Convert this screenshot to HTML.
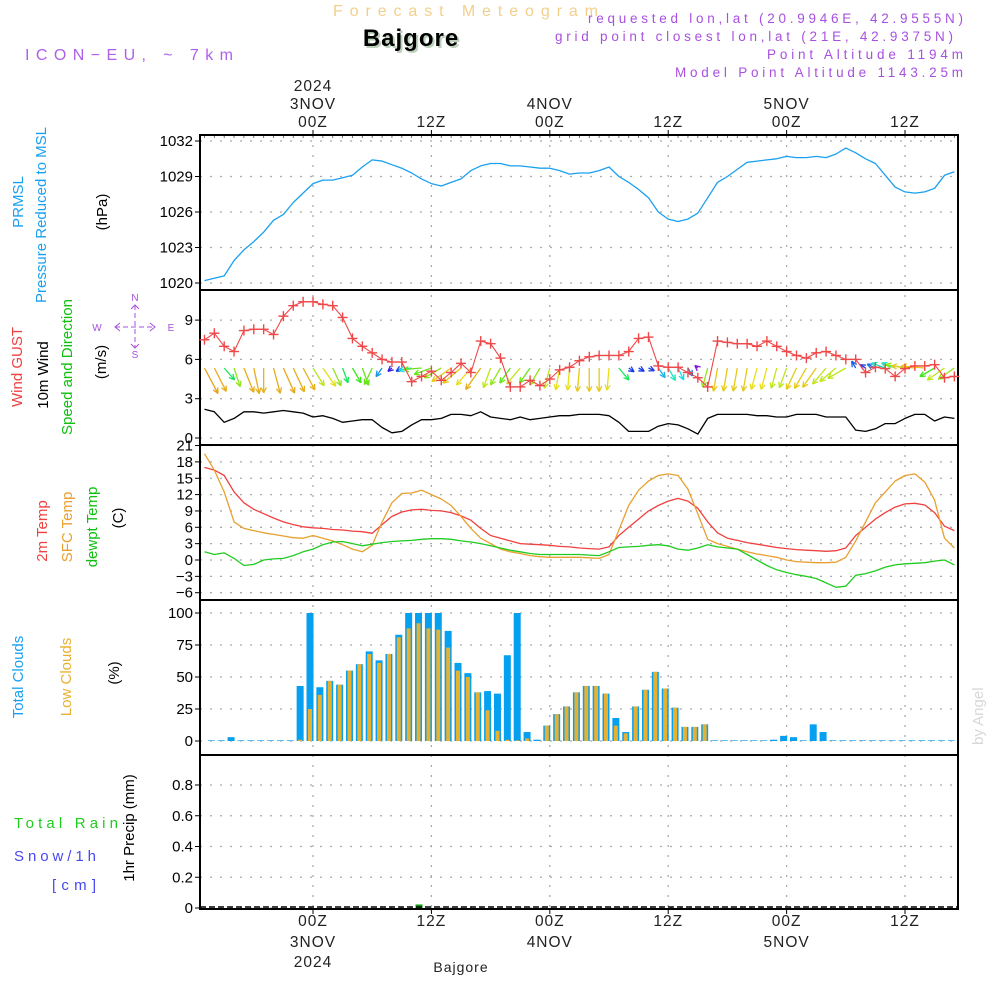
<!DOCTYPE html>
<html><head><meta charset="utf-8"><style>
html,body{margin:0;padding:0;background:#fff;}
svg{display:block;}
text{font-family:"Liberation Sans",sans-serif;}
</style></head><body>
<svg id="chart" width="1000" height="1000" viewBox="0 0 1000 1000" xmlns="http://www.w3.org/2000/svg">
<rect x="0" y="0" width="1000" height="1000" fill="#fff"/>
<text x="333" y="16" font-size="16" fill="#f3cf8c" textLength="265" lengthAdjust="spacing">Forecast Meteogram</text>
<text x="413" y="48" text-anchor="middle" font-size="24" font-weight="bold" font-family="Liberation Serif, serif" fill="#bcd0bc" letter-spacing="1">Bajgore</text>
<text x="411" y="46" text-anchor="middle" font-size="24" font-weight="bold" font-family="Liberation Serif, serif" fill="#000" letter-spacing="1">Bajgore</text>
<text x="25" y="60" font-size="16" fill="#b060e8" textLength="208" lengthAdjust="spacing">ICON−EU, ~ 7km</text>
<g font-size="13.5" fill="#a850e0">
<text x="588" y="23" textLength="375" lengthAdjust="spacing">requested lon,lat (20.9946E, 42.9555N)</text>
<text x="555" y="41" textLength="398" lengthAdjust="spacing">grid point closest lon,lat (21E, 42.9375N)</text>
<text x="767" y="59" textLength="196" lengthAdjust="spacing">Point Altitude 1194m</text>
<text x="675" y="77" textLength="288" lengthAdjust="spacing">Model Point Altitude 1143.25m</text>
</g>
<text transform="translate(983,745) rotate(-90)" font-size="15" font-family="Liberation Serif, serif" fill="#d8d8d8">by Angel</text>

<g id="axes"></g>
<g id="plot"></g>
</svg>
<script>
// ---------- DATA (hourly, hour 0 = 3NOV 00Z) ----------
const hours = [-11,-10,-9,-8,-7,-6,-5,-4,-3,-2,-1,0,1,2,3,4,5,6,7,8,9,10,11,12,13,14,15,16,17,18,19,20,21,22,23,24,25,26,27,28,29,30,31,32,33,34,35,36,37,38,39,40,41,42,43,44,45,46,47,48,49,50,51,52,53,54,55,56,57,58,59,60,61,62,63,64,65];
const pressure = [1020.2,1020.4,1020.6,1021.9,1022.8,1023.5,1024.3,1025.3,1025.8,1026.8,1027.6,1028.4,1028.7,1028.7,1028.9,1029.1,1029.8,1030.4,1030.3,1030.0,1029.7,1029.3,1028.8,1028.4,1028.2,1028.5,1028.8,1029.5,1029.9,1030.1,1030.1,1029.9,1029.9,1029.8,1029.7,1029.7,1029.5,1029.2,1029.3,1029.3,1029.5,1029.8,1029.0,1028.5,1027.9,1027.2,1026.0,1025.4,1025.2,1025.4,1025.9,1027.2,1028.5,1029.0,1029.6,1030.2,1030.3,1030.4,1030.5,1030.7,1030.6,1030.6,1030.7,1030.6,1030.9,1031.4,1031.0,1030.5,1030.1,1029.1,1028.1,1027.7,1027.6,1027.7,1028.0,1029.1,1029.4];
const gust = [7.5,8.0,7.0,6.6,8.2,8.3,8.3,7.9,9.3,10.1,10.4,10.4,10.2,10.1,9.2,7.6,7.0,6.5,6.0,5.8,5.8,4.3,4.7,5.1,4.4,5.0,5.7,5.0,7.4,7.2,6.1,3.9,3.9,4.4,4.0,4.5,5.2,5.4,5.9,6.2,6.3,6.3,6.3,6.6,7.6,7.7,5.5,5.4,5.4,5.0,4.6,3.9,7.4,7.3,7.2,7.2,7.0,7.4,7.0,6.6,6.3,6.1,6.5,6.6,6.3,6.0,6.0,5.0,5.4,5.3,4.7,5.3,5.5,5.5,5.6,4.6,4.7];
const windSpeed = [2.2,2.0,1.2,1.5,2.0,2.0,1.9,2.0,2.1,2.0,1.9,1.6,1.7,1.5,1.2,1.3,1.4,1.4,0.8,0.4,0.5,1.0,1.4,1.4,1.5,1.8,1.8,1.7,2.0,1.6,1.5,1.4,1.6,1.4,1.5,1.6,1.7,1.7,1.8,1.8,1.8,1.7,1.2,0.5,0.5,0.5,0.9,1.1,1.0,0.7,0.3,1.5,1.8,1.8,1.8,1.8,1.7,1.7,1.6,1.6,1.8,1.8,1.8,1.6,1.6,1.6,0.6,0.5,0.7,1.1,1.1,1.5,1.8,1.8,1.3,1.6,1.5];
// direction the arrow points: degrees, 0 = straight down, + = toward right
const windArrowDir = [28,27,41,18,22,12,0,15,24,25,28,32,35,25,20,30,20,-25,-35,-50,-60,-80,-85,-70,-60,-55,-50,-40,-35,-20,-30,-35,-40,-35,-30,-15,-10,-5,-5,0,0,-5,40,55,60,65,35,30,25,30,-130,-15,-10,-10,-10,-10,-15,-15,-15,-20,-25,-30,-35,-40,-50,-60,-150,-120,-115,-110,-110,-100,-95,-95,-60,-55,-55];
const temp2m = [17,16.5,15.5,12.5,10.5,9.3,8.5,7.7,7.0,6.5,6.1,5.9,5.8,5.6,5.5,5.3,5.2,4.9,6.5,8.0,8.8,9.2,9.3,9.1,9.0,8.7,8.1,7.3,5.8,4.5,4.0,3.5,3.0,2.9,2.8,2.7,2.5,2.4,2.2,2.1,2.0,2.4,4.5,6.0,7.5,9.0,10.0,10.8,11.3,10.8,9.5,7.0,5.0,4.0,3.6,3.2,2.9,2.6,2.3,2.1,1.9,1.8,1.7,1.6,1.7,2.2,4.5,6.0,7.5,8.7,9.7,10.3,10.4,10.1,8.7,6.2,5.4];
const tempSfc = [19.5,16.5,12.5,7.0,5.8,5.4,5.0,4.7,4.4,4.1,4.0,4.5,4.0,3.5,2.8,2.0,1.5,2.7,7.0,10.5,12.2,12.3,12.8,12.0,11.2,10.0,8.0,5.8,4.0,3.0,2.0,1.5,1.2,0.8,0.6,0.5,0.5,0.5,0.5,0.4,0.3,1.0,5.5,10.0,12.8,14.5,15.5,15.8,15.5,13.0,8.5,3.8,3.0,2.5,2.0,1.5,1.1,0.8,0.5,0.0,-0.3,-0.4,-0.5,-0.5,-0.4,0.5,3.5,7.0,10.5,12.5,14.5,15.5,15.8,14.3,11.0,4.0,2.2];
const dewpt = [1.5,1.0,1.3,0.3,-1.0,-0.8,0,0.2,0.3,0.8,1.5,2.0,2.8,3.3,3.4,3.0,2.6,2.9,3.2,3.4,3.5,3.6,3.8,3.9,3.9,3.8,3.5,3.3,3.0,2.6,2.2,1.8,1.5,1.2,1.0,1.0,1.0,1.0,1.0,0.9,0.8,1.5,2.3,2.4,2.5,2.7,2.8,2.6,2.0,1.8,2.2,2.8,2.4,2.2,2.0,1.0,0,-1.0,-1.8,-2.3,-2.7,-3.0,-3.4,-4.2,-5.0,-4.8,-2.8,-2.5,-2.0,-1.3,-0.9,-0.7,-0.6,-0.5,-0.2,0,-0.9];
const totalClouds = [0,0.5,0.5,3,0.5,0.5,0.5,0.5,0.5,0.5,43,100,42,47,44,55,60,70,63,68,83,100,100,100,100,86,61,53,38,39,37,67,100,7,1,12,21,27,38,43,43,37,18,7,27,40,54,41,26,11,11,13,0.5,0.5,0.5,0.5,0.5,0.5,1,4,3,0.5,13,7,0.5,0.5,0.5,0.5,0.5,0.5,0.5,0.5,0.5,0.5,0.5,0.5,0.5];
const lowClouds = [0,0,0,0,0,0,0,0,0,0,1,25,36,47,44,55,60,68,61,68,81,88,92,88,87,73,55,50,38,24,8,1,0.5,2,0,12,21,27,38,43,43,37,12,6,27,40,54,41,26,11,11,13,0,0,0,0,0,0,0,0,0,0,0,0,0,0,0,0,0,0,0,0,0,0,0,0,0];
const precip = [0,0,0,0,0,0,0,0,0,0,0,0,0,0,0,0,0,0,0,0,0,0,0.01,0,0,0,0,0,0,0,0,0,0,0,0,0,0,0,0,0,0,0,0,0,0,0,0,0,0,0,0,0,0,0,0,0,0,0,0,0,0,0,0,0,0,0,0,0,0,0,0,0,0,0,0,0];
const pressureTicks = [1020,1023,1026,1029,1032];
const windTicks = [0,3,6,9];
const tempTicks = [-6,-3,0,3,6,9,12,15,18,21];
const cloudTicks = [0,25,50,75,100];
const precipTicks = [0,0.2,0.4,0.6,0.8];
const timeTickHours = [0,12,24,36,48,60];
const timeTickLabels = ["00Z","12Z","00Z","12Z","00Z","12Z"];
const dayLabelHours = [0,24,48];
const dayLabels = ["3NOV","4NOV","5NOV"];

// ---------- SCALES ----------
const X0=200, X1=958;
const xS = h => 313 + h*9.867;
const yP = v => 283 - (v-1020)*11.833;
const yW = v => 438 - v*13.1;
const yT = v => 560 - v*5.45;
const yC = v => 741 - v*1.28;
const yR = v => 908 - v*153.75;
const panels = [[135,290],[290,445],[445,600],[600,755],[755,909]];

const NS="http://www.w3.org/2000/svg";
function mk(tag, attrs, parent){const e=document.createElementNS(NS,tag);for(const k in attrs)e.setAttribute(k,attrs[k]);parent.appendChild(e);return e;}
const axes=document.getElementById('axes'), plot=document.getElementById('plot');

function hGrid(ticks, ys, fmt, name){
  ticks.forEach(t=>{
    const y=ys(t);
    const g=mk('line',{x1:X0,x2:X1,y1:y,y2:y,stroke:'#aaa','stroke-width':1.3,'stroke-dasharray':'2,8'},axes);
    
    
    mk('line',{x1:X0-5,x2:X0,y1:y,y2:y,stroke:'#000','stroke-width':1},axes);
    const tx=mk('text',{x:X0-7,y:y+5,'text-anchor':'end','font-size':15,fill:'#000'},axes);
    tx.textContent=fmt(t);
    
    
  });
}
hGrid(pressureTicks,yP,t=>t,'pressure');
hGrid(windTicks,yW,t=>t,'wind');
hGrid(tempTicks,yT,t=>t<0?'−'+(-t):t,'temp');
hGrid(cloudTicks,yC,t=>t,'cloud');
hGrid(precipTicks,yR,t=>t===0?'0':t.toFixed(1),'precip');
timeTickHours.forEach(h=>{
  const x=xS(h);
  const v=mk('line',{x1:x,x2:x,y1:135,y2:909,stroke:'#aaa','stroke-width':1.3,'stroke-dasharray':'2,8'},axes);
  
  
  mk('line',{x1:x,x2:x,y1:130,y2:135,stroke:'#000'},axes);
  mk('line',{x1:x,x2:x,y1:909,y2:914,stroke:'#000'},axes);
});
hours.forEach(h=>{const x=xS(h); if(x>X0&&x<X1) mk('line',{x1:x,x2:x,y1:135,y2:138,stroke:'#555','stroke-width':0.8},axes);});
timeTickHours.forEach((h,i)=>{
  const x=xS(h);
  const t=mk('text',{x:x,y:127,'text-anchor':'middle','font-size':15.5,fill:'#222','letter-spacing':1},axes);
  t.textContent=timeTickLabels[i];
  
  
  const b=mk('text',{x:x,y:926,'text-anchor':'middle','font-size':15.5,fill:'#222','letter-spacing':1},axes);
  b.textContent=timeTickLabels[i];
  
  
});
dayLabelHours.forEach((h,i)=>{
  const x=xS(h);
  const t=mk('text',{x:x,y:109,'text-anchor':'middle','font-size':15.5,fill:'#222','letter-spacing':1},axes);
  t.textContent=dayLabels[i];
  
  
  const b=mk('text',{x:x,y:947,'text-anchor':'middle','font-size':15.5,fill:'#222','letter-spacing':1},axes);
  b.textContent=dayLabels[i];
  
  
});
{const t=mk('text',{x:xS(0),y:91,'text-anchor':'middle','font-size':15.5,fill:'#222','letter-spacing':1},axes);t.textContent='2024';


const b=mk('text',{x:xS(0),y:967,'text-anchor':'middle','font-size':15.5,fill:'#222','letter-spacing':1},axes);b.textContent='2024';


const s=mk('text',{x:461,y:972,'text-anchor':'middle','font-size':14,fill:'#222','font-family':'Liberation Serif, serif','letter-spacing':1},axes);s.textContent='Bajgore';

}

panels.forEach((p,i)=>{
  const r=mk('rect',{x:X0,y:p[0],width:X1-X0,height:p[1]-p[0],fill:'none',stroke:'#000','stroke-width':2},axes);
  
  
});

function line(vals, ys, color, name, w){
  const pts=hours.map((h,i)=>xS(h).toFixed(1)+','+ys(vals[i]).toFixed(1)).join(' ');
  const l=mk('polyline',{points:pts,fill:'none',stroke:color,'stroke-width':w||1.3,'stroke-linejoin':'round'},plot);
  
  
}
line(pressure,yP,'#1aa0f0','pressure-line');
line(windSpeed,yW,'#000','wind-speed-line');

function spdColor(s){
  const st=[[0.3,270],[0.5,230],[0.9,195],[1.1,170],[1.3,110],[1.5,85],[1.7,58],[1.9,45],[2.3,38]];
  let hue=st[0][1];
  for(let i=0;i<st.length-1;i++){ if(s>=st[i][0]&&s<=st[i+1][0]){const f=(s-st[i][0])/(st[i+1][0]-st[i][0]);hue=st[i][1]+f*(st[i+1][1]-st[i][1]);} }
  if(s>st[st.length-1][0]) hue=38;
  return 'hsl('+hue+',80%,50%)';
}
hours.forEach((h,i)=>{
  const x=xS(h), y=368, L=windSpeed[i]*13.1, t=windArrowDir[i]*Math.PI/180;
  const tx=x+Math.sin(t)*L, ty=y+Math.cos(t)*L, c=spdColor(windSpeed[i]);
  const g=mk('g',{stroke:c,'stroke-width':1.3,fill:'none'},plot);
  
  
  mk('line',{x1:x,y1:y,x2:tx,y2:ty},g);
  const a=Math.atan2(ty-y,tx-x);
  [0.45,-0.45].forEach(d=>mk('line',{x1:tx,y1:ty,x2:tx-6*Math.cos(a+d),y2:ty-6*Math.sin(a+d)},g));
});
line(gust,yW,'#f04848','gust-line',1.1);
hours.forEach((h,i)=>{
  const x=xS(h), y=yW(gust[i]);
  const g=mk('g',{stroke:'#f04848','stroke-width':1.4},plot);
  
  
  mk('line',{x1:x-5,x2:x+5,y1:y,y2:y},g);
  mk('line',{x1:x,x2:x,y1:y-5,y2:y+5},g);
});

line(temp2m,yT,'#f04040','temp-2m-line');
line(tempSfc,yT,'#e8a030','temp-sfc-line');
line(dewpt,yT,'#20cc20','dewpoint-line');

hours.forEach((h,i)=>{
  const x=xS(h)-3;
  if(x-3.5<X0) return;
  const tb=mk('rect',{x:x-3.5,y:yC(totalClouds[i]),width:7,height:yC(0)-yC(totalClouds[i]),fill:'#05a0f0'},plot);
  
  
  const lb=mk('rect',{x:x-2,y:yC(lowClouds[i]),width:4,height:yC(0)-yC(lowClouds[i]),fill:'#e8b030'},plot);
  
  
});
hours.forEach((h,i)=>{
  if(precip[i]<=0) return;
  const x=xS(h)-3;
  const b=mk('rect',{x:x-3,y:yR(precip[i])-2,width:7,height:yR(0)-yR(precip[i])+2,fill:'#10a010'},plot);
  
  
});
{const z=mk('line',{x1:X0,x2:X1,y1:907,y2:907,stroke:'#000','stroke-width':1.5,'stroke-dasharray':'6,3'},plot);

}

function vlab(txt,x,cy,color,name,size){
  const t=mk('text',{transform:'translate('+x+','+cy+') rotate(-90)','text-anchor':'middle','font-size':size||15,fill:color},axes);
  t.textContent=txt;
  
  
}
vlab('PRMSL',23,202,'#1aa0f0','pressure-title-1');
vlab('Pressure Reduced to MSL',46,215,'#1aa0f0','pressure-title-2');
vlab('(hPa)',107,212,'#000','pressure-unit');
vlab('Wind GUST',22,367,'#f04040','gust-title');
vlab('10m Wind',48,375,'#000','wind-title');
vlab('Speed and Direction',72,367,'#10c010','wind-direction-title');
vlab('(m/s)',106,362,'#000','wind-unit');
vlab('2m Temp',47,531,'#f04040','temp-2m-title');
vlab('SFC Temp',72,527,'#e8a030','temp-sfc-title');
vlab('dewpt Temp',97,527,'#10c010','dewpoint-title');
vlab('(C)',123,518,'#000','temp-unit');
vlab('Total Clouds',23,677,'#1aa0f0','total-cloud-title');
vlab('Low Clouds',71,677,'#e8b030','low-cloud-title');
vlab('(%)',119,673,'#000','cloud-unit');
vlab('1hr Precip (mm)',134,828,'#000','precip-title');
[['Total   Rain',14,828,'#20cc20','rain-legend',104],['Snow/1h',14,861,'#4848f0','snow-legend',82],['[cm]',52,890,'#4848f0','snow-unit',44]].forEach(d=>{
  const t=mk('text',{x:d[1],y:d[2],'font-size':15,fill:d[3],textLength:d[5],lengthAdjust:'spacing','xml:space':'preserve'},axes);
  t.textContent=d[0];
  
  
});
{const g=mk('g',{fill:'#a850e0','font-size':10,'text-anchor':'middle'},axes);


[['N',135,301],['S',135,358],['W',97,331],['E',171,331]].forEach(d=>{const t=mk('text',{x:d[1],y:d[2]},g);t.textContent=d[0];});
mk('line',{x1:115,x2:155,y1:327,y2:327,stroke:'#a850e0','stroke-dasharray':'5,3'},g);
mk('line',{x1:135,x2:135,y1:305,y2:348,stroke:'#a850e0','stroke-dasharray':'5,3'},g);
mk('polyline',{points:'120,323 115,327 120,331',fill:'none',stroke:'#a850e0'},g);
mk('polyline',{points:'150,323 155,327 150,331',fill:'none',stroke:'#a850e0'},g);
mk('polyline',{points:'131,309 135,305 139,309',fill:'none',stroke:'#a850e0'},g);
mk('polyline',{points:'131,344 135,348 139,344',fill:'none',stroke:'#a850e0'},g);}
</script>
</body></html>
